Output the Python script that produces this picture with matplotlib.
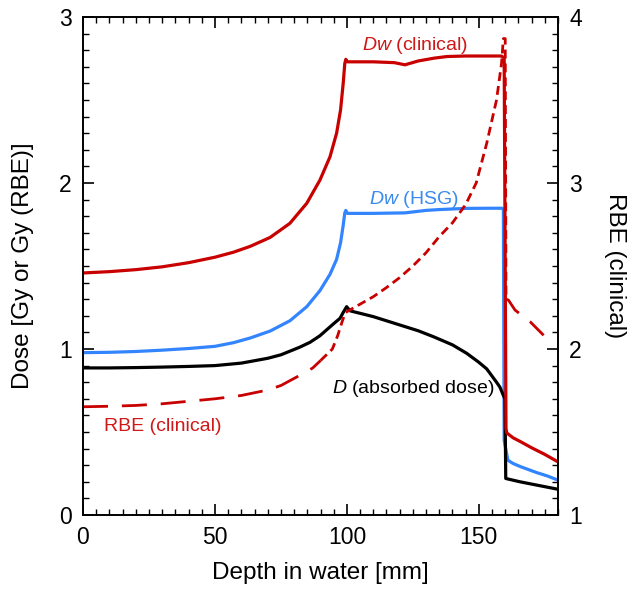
import matplotlib
matplotlib.use("Agg")
import matplotlib.pyplot as plt
import numpy as np
from matplotlib.ticker import MultipleLocator

plt.rcParams['font.family'] = ['Liberation Sans', 'DejaVu Sans']
plt.rcParams['mathtext.fontset'] = 'custom'
plt.rcParams['mathtext.it'] = 'Liberation Sans:italic'
plt.rcParams['mathtext.rm'] = 'Liberation Sans'

# Dw (clinical)
dwc_x = [0, 10, 20, 30, 40, 50, 57, 63.3, 70.9, 78.4, 84.8, 89.8, 93.6, 96.1, 97.6, 98.6, 99.2, 99.6,
         100.2, 105, 110, 118, 122, 127, 133, 138, 145, 152, 158.5, 159.6, 160.3, 160.6, 163, 166, 170, 175, 180]
dwc_y = [1.458, 1.466, 1.478, 1.495, 1.52, 1.553, 1.583, 1.618, 1.672, 1.757, 1.878, 2.018, 2.158, 2.30,
         2.44, 2.60, 2.72, 2.745, 2.73, 2.73, 2.73, 2.725, 2.712, 2.735, 2.752, 2.762, 2.765, 2.765, 2.765,
         2.755, 0.52, 0.494, 0.465, 0.44, 0.405, 0.365, 0.32]

# Dw (HSG)
dwh_x = [0, 10, 20, 30, 40, 50, 57, 63.3, 70.9, 78.4, 84.8, 89.8, 93.6, 96.1, 97.6, 98.6, 99.2, 99.6,
         100.2, 110, 122, 130, 135, 145, 155, 158.8, 159.3, 159.6, 161, 163, 166, 172, 176, 180]
dwh_y = [0.978, 0.98, 0.985, 0.993, 1.003, 1.016, 1.038, 1.066, 1.108, 1.17, 1.255, 1.352, 1.45, 1.54,
         1.64, 1.745, 1.82, 1.835, 1.817, 1.817, 1.82, 1.835, 1.84, 1.847, 1.848, 1.848, 1.84, 0.45, 0.33,
         0.31, 0.29, 0.255, 0.235, 0.21]

# D (absorbed dose)
d_x = [0, 10, 20, 30, 40, 50, 60, 70, 75, 82, 86, 89.8, 92.3, 94.8, 97.4, 98.6, 99.9, 101.2, 105, 110,
       120, 127, 132.8, 140, 145.4, 150, 153, 156.7, 158, 159.3, 159.9, 160.2, 165.6, 172, 180]
d_y = [0.886, 0.886, 0.888, 0.891, 0.895, 0.90, 0.915, 0.944, 0.965, 1.01, 1.04, 1.08, 1.115, 1.15, 1.185,
       1.22, 1.255, 1.23, 1.215, 1.195, 1.145, 1.11, 1.074, 1.025, 0.974, 0.92, 0.88, 0.80, 0.77, 0.72,
       0.70, 0.22, 0.20, 0.18, 0.155]

# RBE (clinical), right axis
rbe_x = [0, 10, 20, 30, 40, 50, 60, 70, 75, 82, 87, 90, 94.5, 96.5, 98, 99.3, 100, 105, 110, 115, 120,
         125, 130, 135, 140, 145, 149, 153, 156.7, 158.6, 159.3, 160.0, 160.3, 161.2, 163.7, 166.5,
         169.4, 171.9, 175.7]
rbe_y = [1.652, 1.655, 1.66, 1.67, 1.685, 1.70, 1.72, 1.753, 1.78, 1.84, 1.885, 1.93, 2.0, 2.08, 2.155,
         2.215, 2.225, 2.27, 2.315, 2.37, 2.43, 2.50, 2.58, 2.677, 2.76, 2.87, 3.0, 3.24, 3.5, 3.72, 3.87,
         3.87, 2.30, 2.295, 2.235, 2.20, 2.165, 2.125, 2.064]

RED = '#C80000'
BLUE = '#3385FF'

fig = plt.figure(figsize=(6.27, 5.90), dpi=100)
ax = fig.add_axes([83/627, 1-515/590, (558-83)/627, (515-17)/590])
ax2 = ax.twinx()

ax.plot(dwc_x, dwc_y, color=RED, lw=2.3, zorder=3)
ax.plot(dwh_x, dwh_y, color=BLUE, lw=2.3, zorder=2)
ax.plot(d_x, d_y, color='black', lw=2.3, zorder=2)

rx = np.array(rbe_x); ry = np.array(rbe_y)
m1 = rx <= 90
m2 = (rx >= 90) & (rx <= 160.3)
m3 = rx >= 160.3
ax2.plot(rx[m1], ry[m1], color=RED, lw=2.0, dashes=(9, 5))
ax2.plot(rx[m2], ry[m2], color=RED, lw=2.0, dashes=(3.2, 1.8))
ax2.plot(rx[m3], ry[m3], color=RED, lw=2.0, dashes=(7, 5))

ax.set_xlim(0, 180)
ax.set_ylim(0, 3)
ax2.set_ylim(1, 4)

ax.xaxis.set_major_locator(MultipleLocator(50))
ax.xaxis.set_minor_locator(MultipleLocator(5))
ax.yaxis.set_major_locator(MultipleLocator(1))
ax.yaxis.set_minor_locator(MultipleLocator(0.1))
ax2.yaxis.set_major_locator(MultipleLocator(1))
ax2.yaxis.set_minor_locator(MultipleLocator(0.1))

ax.tick_params(axis='both', which='major', direction='in', length=8, width=1.2, labelsize=16.5,
               top=True, right=False, pad=8)
ax.tick_params(axis='both', which='minor', direction='in', length=4.5, width=1.0, top=True, right=False)
ax2.tick_params(axis='y', which='major', direction='in', length=8, width=1.2, labelsize=16.5, pad=8)
ax2.tick_params(axis='y', which='minor', direction='in', length=4.5, width=1.0)

for a in (ax, ax2):
    for s in a.spines.values():
        s.set_linewidth(1.2)

ax.set_xlabel('Depth in water [mm]', fontsize=17.5)
ax.set_ylabel('Dose [Gy or Gy (RBE)]', fontsize=17.5)
ax2.set_ylabel('RBE (clinical)', fontsize=17.5, rotation=270, va='bottom')
ax.xaxis.set_label_coords(0.5, -0.094)
ax.yaxis.set_label_coords(-0.103, 0.5)
ax2.yaxis.set_label_coords(1.097, 0.5)

ax.text(125.8, 2.83, r'$Dw$ (clinical)', color='#D01818', fontsize=14, ha='center', va='center')
ax.text(125.4, 1.90, r'$Dw$ (HSG)', color='#3A8AF0', fontsize=14, ha='center', va='center')
ax.text(125.0, 0.765, r'$D$ (absorbed dose)', color='black', fontsize=14, ha='center', va='center')
ax.text(30.1, 0.532, 'RBE (clinical)', color='#D01818', fontsize=14, ha='center', va='center')

fig.savefig('out.png', dpi=100)
